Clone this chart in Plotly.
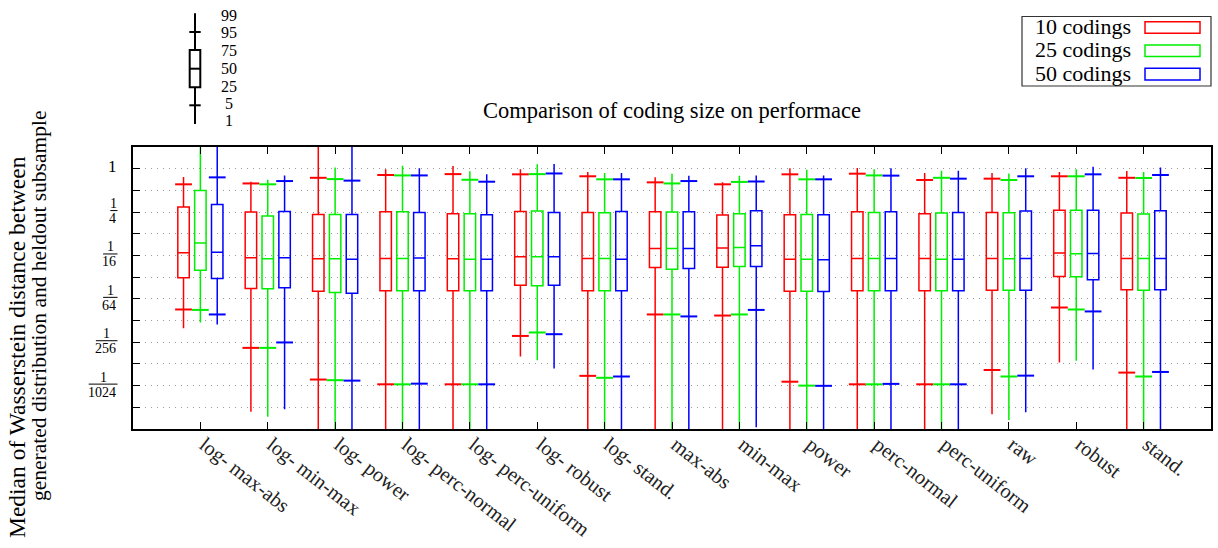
import numpy as np
import plotly.graph_objects as go

# ---------------- data (log2 of the plotted values) ----------------
categories = ["log- max-abs", "log- min-max", "log- power", "log- perc-normal",
              "log- perc-uniform", "log- robust", "log- stand.", "max-abs", "min-max",
              "power", "perc-normal", "perc-uniform", "raw", "robust", "stand."]
series_names = ["10 codings", "25 codings", "50 codings"]

# 10 codings
c10_p1 = [-7.35, -11.2, -14, -14, -14, -8.66, -14, -14, -14, -14, -14, -14, -11.32, -8.94, -14]
c10_p5 = [-6.49, -8.26, -9.72, -9.94, -9.94, -7.71, -9.55, -6.72, -6.77, -9.82, -9.94, -9.94, -9.28, -6.40, -9.40]
c10_q1 = [-5.03, -5.52, -5.65, -5.63, -5.63, -5.37, -5.63, -4.55, -4.54, -5.65, -5.63, -5.63, -5.60, -4.97, -5.58]
c10_med = [-3.88, -4.11, -4.15, -4.14, -4.15, -4.06, -4.14, -3.68, -3.66, -4.18, -4.14, -4.14, -4.14, -3.89, -4.14]
c10_q3 = [-1.77, -2.00, -2.11, -1.98, -2.08, -1.97, -2.02, -1.98, -2.14, -2.12, -1.98, -2.08, -2.02, -1.92, -2.04]
c10_p95 = [-0.72, -0.68, -0.42, -0.29, -0.25, -0.26, -0.35, -0.63, -0.72, -0.26, -0.23, -0.52, -0.46, -0.35, -0.42]
c10_p99 = [-0.38, -0.60, 1.5, -0.02, 0.12, -0.02, -0.15, -0.40, -0.63, 0.02, 0.03, -0.20, -0.20, -0.15, -0.11]

# 25 codings
c25_p1 = [-7.09, -11.43, -14, -14, -14, -8.83, -14, -14, -14, -14, -14, -14, -11.58, -8.85, -14]
c25_p5 = [-6.51, -8.26, -9.75, -9.94, -9.94, -7.55, -9.64, -6.72, -6.72, -10.0, -9.94, -9.94, -9.58, -6.49, -9.58]
c25_q1 = [-4.68, -5.54, -5.71, -5.63, -5.63, -5.40, -5.63, -4.63, -4.51, -5.65, -5.63, -5.63, -5.60, -4.98, -5.60]
c25_med = [-3.42, -4.15, -4.15, -4.14, -4.18, -4.06, -4.14, -3.68, -3.63, -4.18, -4.14, -4.17, -4.15, -3.92, -4.14]
c25_q3 = [-1.00, -2.18, -2.11, -1.98, -2.08, -1.95, -2.03, -2.00, -2.08, -2.11, -2.02, -2.04, -2.03, -1.92, -2.09]
c25_p95 = [1.2, -0.72, -0.48, -0.31, -0.51, -0.25, -0.49, -0.68, -0.61, -0.49, -0.31, -0.42, -0.52, -0.35, -0.43]
c25_p99 = [1.6, -0.51, 0.05, 0.14, -0.12, 0.20, -0.20, -0.23, -0.32, -0.05, -0.02, -0.09, -0.22, -0.03, -0.15]

# 50 codings
c50_p1 = [-7.18, -11.09, -14, -14, -14, -9.21, -14, -14, -11.92, -14, -14, -14, -11.23, -9.26, -14]
c50_p5 = [-6.72, -8.01, -9.77, -9.91, -9.94, -7.63, -9.58, -6.81, -6.51, -10.01, -9.92, -9.94, -9.54, -6.58, -9.37]
c50_q1 = [-5.06, -5.49, -5.74, -5.63, -5.63, -5.37, -5.63, -4.60, -4.51, -5.66, -5.63, -5.63, -5.60, -5.12, -5.58]
c50_med = [-3.85, -4.11, -4.17, -4.12, -4.17, -4.06, -4.17, -3.68, -3.55, -4.20, -4.14, -4.17, -4.14, -3.91, -4.14]
c50_q3 = [-1.65, -1.97, -2.11, -2.02, -2.12, -2.02, -1.97, -1.98, -1.94, -2.12, -1.98, -2.02, -1.95, -1.92, -1.94]
c50_p95 = [-0.40, -0.57, -0.55, -0.31, -0.60, -0.22, -0.49, -0.57, -0.59, -0.49, -0.32, -0.46, -0.35, -0.26, -0.29]
c50_p99 = [1.5, -0.31, 1.5, 0.02, -0.26, 0.22, -0.20, -0.32, -0.31, -0.31, 0.02, -0.10, 0.02, 0.09, 0.05]

y_tick_exponents = list(range(0, -12, -1))          # grid/ticks at every power of two
y_label_denominators = [1, 4, 16, 64, 256, 1024]    # labelled ticks
key_labels = ["99", "95", "75", "50", "25", "5", "1"]

# ---------------- styling ----------------
FONT = "Liberation Serif, Times New Roman, serif"
colors = ["#ff0000", "#00ee00", "#0000ff"]
offsets = [-0.25, 0.0, 0.25]
W, H = 1218, 548
L, R, T, B = 133, 1211, 147, 429
Y_MIN, Y_MAX = np.log10(2.0 ** -12), np.log10(2.0)


def px(x):
    return (x - L) / (R - L)


def py(y):
    return (B - y) / (B - T)


def ypix(v):
    return B - (np.log10(v) - Y_MIN) / (Y_MAX - Y_MIN) * (B - T)


series = [
    (c10_p1, c10_p5, c10_q1, c10_med, c10_q3, c10_p95, c10_p99),
    (c25_p1, c25_p5, c25_q1, c25_med, c25_q3, c25_p95, c25_p99),
    (c50_p1, c50_p5, c50_q1, c50_med, c50_q3, c50_p95, c50_p99),
]

fig = go.Figure()
idx = np.arange(len(categories))
for name, col, off, s in zip(series_names, colors, offsets, series):
    p1, p5, q1, med, q3, p95, p99 = [2.0 ** np.array(a) for a in s]
    xs = idx + off
    fig.add_trace(go.Box(
        x=xs, q1=q1, median=med, q3=q3, lowerfence=p1, upperfence=p99,
        width=0.17, whiskerwidth=0, boxpoints=False, name=name,
        line=dict(color=col, width=1.5), fillcolor="rgba(0,0,0,0)",
        showlegend=False, hoverinfo="skip"))
    fig.add_trace(go.Scatter(
        x=np.concatenate([xs, xs]), y=np.concatenate([p5, p95]), mode="markers",
        marker=dict(symbol="line-ew", size=12, color=col, line=dict(color=col, width=2)),
        showlegend=False, hoverinfo="skip"))

annotations = []
shapes = []

# y tick labels as stacked fractions
for d in y_label_denominators:
    yv = np.log10(1.0 / d)
    if d == 1:
        annotations.append(dict(x=px(118.5), y=yv, xref="paper", yref="y", text="1",
                                xanchor="right", yanchor="middle", yshift=2, showarrow=False,
                                font=dict(family=FONT, size=17, color="black")))
        continue
    wd = 7.2 * len(str(d))
    xr = 117.5
    annotations.append(dict(x=px(xr - wd / 2), y=yv, xref="paper", yref="y", text="1",
                            xanchor="center", yanchor="middle", yshift=9, height=12,
                            showarrow=False, font=dict(family=FONT, size=14, color="black")))
    annotations.append(dict(x=px(xr), y=yv, xref="paper", yref="y", text=str(d),
                            xanchor="right", yanchor="middle", yshift=-6, height=12,
                            showarrow=False, font=dict(family=FONT, size=14, color="black")))
    ybar = py(ypix(1.0 / d) - 1.5)
    shapes.append(dict(type="line", xref="paper", yref="paper",
                       x0=px(xr - wd), x1=px(xr), y0=ybar, y1=ybar,
                       line=dict(color="black", width=1)))

# title
annotations.append(dict(x=0.5, y=py(110), xref="paper", yref="paper", showarrow=False,
                        text="Comparison of coding size on performace", xanchor="center",
                        yanchor="middle", font=dict(family=FONT, size=22.5, color="black")))

# y axis title (two lines)
annotations.append(dict(x=px(17), y=py(347), xref="paper", yref="paper", showarrow=False,
                        text="Median of Wasserstein distance between", textangle=-90,
                        xanchor="center", yanchor="middle",
                        font=dict(family=FONT, size=23.5, color="black")))
annotations.append(dict(x=px(39), y=py(306), xref="paper", yref="paper", showarrow=False,
                        text="generated distribution and heldout subsample", textangle=-90,
                        xanchor="center", yanchor="middle",
                        font=dict(family=FONT, size=21.5, color="black")))

# legend (text left of coloured sample boxes)
shapes.append(dict(type="rect", xref="paper", yref="paper", x0=px(1022), x1=px(1211),
                   y0=py(86), y1=py(16.5), line=dict(color="#333333", width=1.2)))
for i, (name, col) in enumerate(zip(series_names, colors)):
    yc = 27.5 + 23.3 * i
    annotations.append(dict(x=px(1133), y=py(yc - 1), xref="paper", yref="paper", showarrow=False,
                            text=name, xanchor="right", yanchor="middle",
                            font=dict(family=FONT, size=22, color="black")))
    shapes.append(dict(type="rect", xref="paper", yref="paper", x0=px(1145), x1=px(1200),
                       y0=py(yc + 5.8), y1=py(yc - 5.8), line=dict(color=col, width=1.5)))

# key diagram (top-left)
kx = 195
kline = dict(color="black", width=2)
shapes.append(dict(type="line", xref="paper", yref="paper", x0=px(kx), x1=px(kx),
                   y0=py(13.3), y1=py(50), line=kline))
shapes.append(dict(type="line", xref="paper", yref="paper", x0=px(kx), x1=px(kx),
                   y0=py(87.3), y1=py(124), line=kline))
for yy in (32, 105.3):
    shapes.append(dict(type="line", xref="paper", yref="paper", x0=px(kx - 5.7), x1=px(kx + 5.7),
                       y0=py(yy), y1=py(yy), line=kline))
shapes.append(dict(type="rect", xref="paper", yref="paper", x0=px(kx - 5.3), x1=px(kx + 5.3),
                   y0=py(87.3), y1=py(50), line=kline))
shapes.append(dict(type="line", xref="paper", yref="paper", x0=px(kx - 5.3), x1=px(kx + 5.3),
                   y0=py(68.7), y1=py(68.7), line=kline))
key_y = [15, 33, 51, 69, 86.5, 104, 120]
for lab, yy in zip(key_labels, key_y):
    annotations.append(dict(x=px(228.5), y=py(yy), xref="paper", yref="paper", showarrow=False,
                            text=lab, xanchor="center", yanchor="middle",
                            font=dict(family=FONT, size=16, color="black")))

fig.update_layout(
    width=W, height=H, autosize=False,
    margin=dict(l=L, r=W - R, t=T, b=H - B, pad=0),
    paper_bgcolor="white", plot_bgcolor="white",
    boxmode="overlay", showlegend=False,
    annotations=annotations, shapes=shapes,
    font=dict(family=FONT, size=21, color="black"),
    xaxis=dict(range=[-1, 15], tickmode="array", tickvals=list(idx), ticktext=categories,
               tickangle=38, ticks="inside", ticklen=7, tickcolor="black", tickwidth=1.2,
               showline=True, linecolor="black", linewidth=1.5, mirror="ticks",
               showgrid=False, zeroline=False, automargin=False,
               ticklabelstandoff=-6, ticklabelshift=4,
               tickfont=dict(family=FONT, size=20.5, color="#222222")),
    yaxis=dict(type="log", range=[Y_MIN, Y_MAX], tickmode="array",
               tickvals=[2.0 ** k for k in y_tick_exponents], showticklabels=False,
               ticks="inside", ticklen=7, tickcolor="black", tickwidth=1.2,
               showline=True, linecolor="black", linewidth=1.5, mirror="ticks",
               showgrid=True, gridcolor="#9a9a9a", gridwidth=1, griddash="1px,5px",
               zeroline=False, automargin=False),
)

fig.write_html("out.html")
